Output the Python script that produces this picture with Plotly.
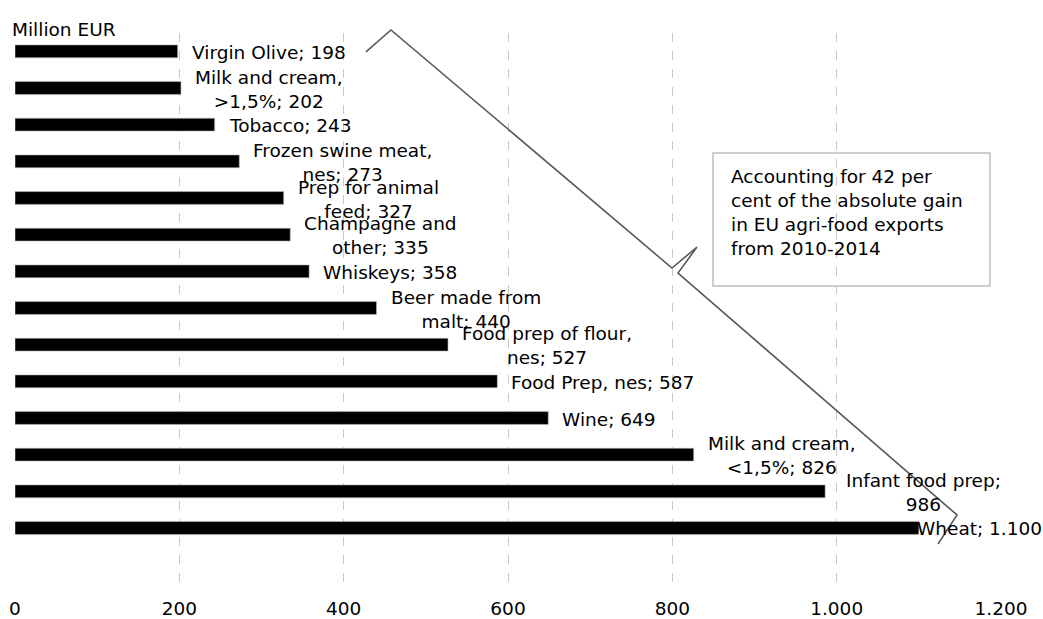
import plotly.graph_objects as go

# Data (top to bottom as displayed)
products = ["Virgin Olive", "Milk and cream, >1,5%", "Tobacco", "Frozen swine meat, nes",
            "Prep for animal feed", "Champagne and other", "Whiskeys", "Beer made from malt",
            "Food prep of flour, nes", "Food Prep, nes", "Wine", "Milk and cream, <1,5%",
            "Infant food prep", "Wheat"]
values = [198, 202, 243, 273, 327, 335, 358, 440, 527, 587, 649, 826, 986, 1100]
# label text templates (line breaks as in the reference)
label_templates = ["Virgin Olive; {v}", "Milk and cream,<br>&gt;1,5%; {v}", "Tobacco; {v}",
                   "Frozen swine meat,<br>nes; {v}", "Prep for animal<br>feed; {v}",
                   "Champagne and<br>other; {v}", "Whiskeys; {v}", "Beer made from<br>malt; {v}",
                   "Food prep of flour,<br>nes; {v}", "Food Prep, nes; {v}", "Wine; {v}",
                   "Milk and cream,<br>&lt;1,5%; {v}", "Infant food prep;<br>{v}", "Wheat; {v}"]
x_ticks = [0, 200, 400, 600, 800, 1000, 1200]
x_tick_text = ["0", "200", "400", "600", "800", "1.000", "1.200"]
note_text = "Accounting for 42 per<br>cent of the absolute gain<br>in EU agri-food exports<br>from 2010-2014"

FONT = "Verdana, DejaVu Sans, sans-serif"
FS = 18.5


def eu(v):
    return f"{v:,}".replace(",", ".")


fig = go.Figure()
fig.add_trace(go.Bar(
    x=values, y=products, orientation="h", width=0.35,
    marker=dict(color="#000000", line=dict(color="#bfbfbf", width=0.6)),
    hoverinfo="skip", showlegend=False,
))

annotations = []
for p, v, t in zip(products, values, label_templates):
    txt = t.format(v=eu(v))
    if v >= 1050:
        annotations.append(dict(x=v, y=p, xref="x", yref="y", text=txt, showarrow=False,
                                xanchor="left", yanchor="middle", xshift=-4, align="center"))
    elif v >= 950:
        annotations.append(dict(x=1200, y=p, xref="x", yref="y", text=txt, showarrow=False,
                                xanchor="right", yanchor="middle", xshift=2, yshift=-1, align="center"))
    else:
        annotations.append(dict(x=v, y=p, xref="x", yref="y", text=txt, showarrow=False,
                                xanchor="left", yanchor="middle", xshift=12, yshift=-1, align="center"))

annotations.append(dict(x=0, y=1.0055, xref="paper", yref="paper", text="Million EUR",
                        showarrow=False, xanchor="left", yanchor="middle", xshift=-5))
annotations.append(dict(x=0.7272, y=0.762, xref="paper", yref="paper", text=note_text,
                        showarrow=False, xanchor="left", yanchor="top", align="left", xshift=-3))

shapes = [
    dict(type="rect", xref="paper", yref="paper", x0=0.7079, x1=0.9888, y0=0.54, y1=0.7818,
         line=dict(color="#bfbfbf", width=1.5), fillcolor="rgba(0,0,0,0)"),
    dict(type="path", xref="paper", yref="paper",
         path="M 0.3560 0.9655 L 0.3813 1.0055 L 0.6663 0.5727 L 0.6917 0.6109 "
              "M 0.6917 0.6109 L 0.6724 0.5636 L 0.9554 0.1236 L 0.9361 0.0709",
         line=dict(color="#595959", width=1.6)),
]

fig.update_layout(
    width=1043, height=619,
    margin=dict(l=15, r=42, t=33, b=36),
    paper_bgcolor="white", plot_bgcolor="white",
    font=dict(family=FONT, size=FS, color="#000000"),
    annotations=annotations, shapes=shapes,
    xaxis=dict(range=[0, 1200], tickvals=x_ticks, ticktext=x_tick_text,
               showgrid=True, gridcolor="#c8c8c8", griddash="dash", gridwidth=1,
               zeroline=False, showline=False, ticks="", ticklabelstandoff=12,
               automargin=False, fixedrange=True),
    yaxis=dict(type="category", range=[14.5, -0.5], showticklabels=False, showgrid=False,
               zeroline=False, showline=False, ticks="", automargin=False),
    bargap=0.65,
)

fig.write_html("out.html", config={"displayModeBar": False},
               post_script="document.body.style.margin='0';")
